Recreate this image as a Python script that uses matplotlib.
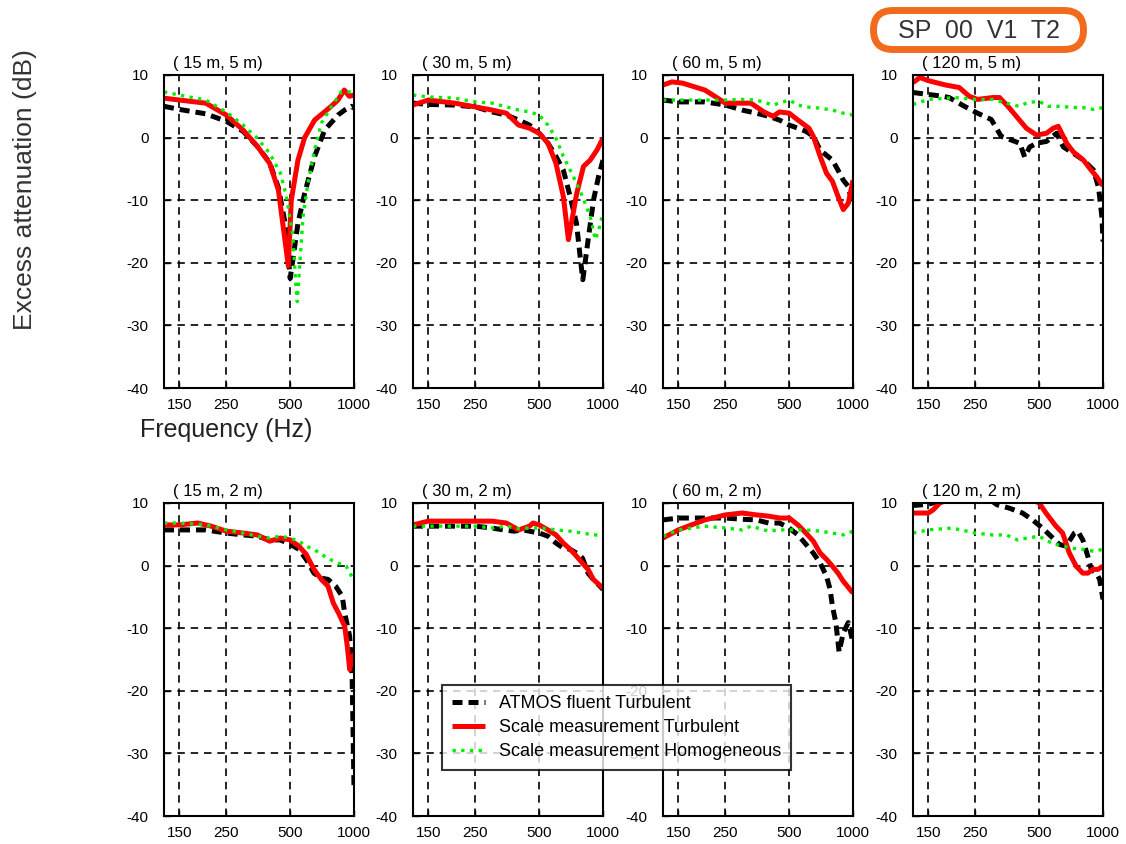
import matplotlib
matplotlib.use("Agg")
import matplotlib.pyplot as plt
from matplotlib.patches import FancyBboxPatch
from matplotlib.ticker import FixedLocator, NullLocator


plt.rcParams["font.family"] = ["Liberation Sans", "DejaVu Sans"]
plt.rcParams["axes.unicode_minus"] = False

# series names
labels = ["ATMOS fluent Turbulent", "Scale measurement Turbulent", "Scale measurement Homogeneous"]
panel_titles = ["( 15 m, 5 m)", "( 30 m, 5 m)", "( 60 m, 5 m)", "( 120 m, 5 m)",
                "( 15 m, 2 m)", "( 30 m, 2 m)", "( 60 m, 2 m)", "( 120 m, 2 m)"]
x_ticks = [150, 250, 500, 1000]
y_ticks = [10, 0, -10, -20, -30, -40]

# ---- (15 m, 5 m)
f15_5_atmos = [127, 150, 200, 250, 300, 350, 400, 440, 475, 500, 544, 585, 652, 727, 840, 903, 971, 1000]
v15_5_atmos = [5.0, 4.5, 3.8, 2.6, 1.0, -1.4, -4.0, -8.0, -14.0, -22.5, -13.7, -8.9, -3.0, 1.2, 3.6, 4.4, 5.0, 4.7]
f15_5_turb = [127, 150, 200, 250, 300, 350, 400, 440, 470, 490, 506, 544, 585, 652, 781, 840, 900, 950, 1000]
v15_5_turb = [6.3, 6.0, 5.5, 3.6, 1.2, -1.4, -4.1, -8.4, -15.8, -20.5, -10.0, -3.6, 0.0, 2.8, 5.0, 6.0, 7.6, 6.6, 6.8]
f15_5_homo = [127, 150, 200, 250, 300, 350, 400, 450, 480, 515, 530, 540, 575, 606, 652, 701, 781, 871, 971, 1000]
v15_5_homo = [7.3, 6.8, 6.0, 4.1, 2.0, -0.1, -2.5, -5.7, -9.4, -15.8, -23.0, -26.2, -12.6, -7.3, -2.0, 2.3, 4.9, 7.3, 7.3, 7.0]

# ---- (30 m, 5 m)
f30_5_atmos = [127, 150, 200, 250, 300, 350, 400, 450, 500, 550, 600, 650, 700, 750, 780, 803, 855, 903, 953, 1000]
v30_5_atmos = [5.5, 5.3, 5.2, 4.9, 4.1, 3.6, 2.8, 2.0, 0.7, -0.9, -3.0, -5.2, -9.4, -13.7, -19.0, -22.7, -15.8, -9.9, -6.2, -3.6]
f30_5_turb = [127, 150, 200, 250, 300, 350, 400, 450, 500, 550, 600, 650, 687, 752, 809, 870, 936, 1000]
v30_5_turb = [5.2, 6.0, 5.5, 4.9, 4.4, 3.9, 2.0, 1.5, 0.7, -0.9, -4.1, -9.4, -16.3, -8.9, -4.6, -3.6, -2.0, -0.1]
f30_5_homo = [127, 150, 200, 250, 300, 350, 400, 450, 500, 550, 600, 650, 700, 750, 800, 870, 920, 950, 1000]
v30_5_homo = [6.8, 6.5, 6.3, 5.7, 5.5, 4.9, 4.4, 4.1, 3.6, 2.0, -0.1, -3.0, -5.2, -7.3, -9.4, -12.6, -16.3, -15.0, -12.0]

# ---- (60 m, 5 m)
f60_5_atmos = [127, 150, 200, 250, 300, 350, 400, 450, 500, 550, 600, 650, 700, 800, 850, 900, 950, 1000]
v60_5_atmos = [6.0, 5.7, 5.7, 5.2, 4.4, 3.9, 3.4, 2.8, 2.0, 1.5, 1.0, 0.2, -2.0, -3.6, -5.2, -6.8, -7.8, -11.0]
f60_5_turb = [127, 140, 157, 200, 230, 250, 300, 330, 380, 420, 450, 500, 550, 620, 650, 700, 750, 800, 850, 900, 950, 1000]
v60_5_turb = [8.4, 8.9, 8.7, 7.6, 6.3, 5.5, 5.5, 5.5, 4.1, 3.4, 4.1, 3.9, 2.8, 1.5, 0.2, -3.0, -5.7, -7.0, -9.4, -11.5, -10.5, -6.8]
f60_5_homo = [127, 150, 200, 250, 300, 350, 420, 500, 550, 600, 700, 800, 900, 1000]
v60_5_homo = [6.0, 6.0, 6.0, 6.0, 6.1, 6.0, 5.2, 6.0, 5.2, 4.9, 4.7, 4.4, 3.9, 3.6]

# ---- (120 m, 5 m)
f120_5_atmos = [127, 150, 175, 188, 222, 256, 297, 331, 370, 405, 427, 451, 486, 542, 604, 650, 725, 809, 903, 953, 989, 1000]
v120_5_atmos = [7.2, 6.9, 6.6, 6.4, 5.0, 3.9, 2.9, 0.2, -0.4, -0.9, -3.1, -1.5, -0.9, -0.6, 0.7, -1.5, -2.5, -3.6, -5.2, -8.0, -12.8, -16.6]
f120_5_turb = [127, 137, 150, 181, 210, 234, 256, 302, 325, 356, 390, 435, 486, 542, 582, 615, 674, 725, 809, 870, 936, 1000]
v120_5_turb = [8.8, 9.6, 9.1, 8.4, 8.0, 6.6, 6.1, 6.4, 6.4, 5.0, 3.4, 1.5, 0.4, 0.7, 1.5, 1.8, -0.9, -2.3, -3.6, -5.0, -6.3, -7.7]
f120_5_homo = [127, 150, 200, 250, 300, 400, 443, 500, 550, 650, 700, 800, 900, 1000]
v120_5_homo = [5.3, 6.1, 6.4, 6.1, 6.1, 5.0, 5.6, 5.8, 5.0, 5.0, 4.8, 4.8, 4.5, 4.8]

# ---- (15 m, 2 m)
f15_2_atmos = [127, 150, 200, 250, 300, 350, 400, 450, 500, 550, 595, 647, 701, 754, 820, 880, 904, 954, 980, 1000]
v15_2_atmos = [5.7, 5.7, 5.7, 5.2, 4.9, 4.7, 4.1, 4.1, 3.4, 2.6, 1.0, -1.2, -2.0, -2.2, -3.3, -4.9, -7.6, -11.3, -17.7, -35.5]
f15_2_turb = [127, 150, 183, 212, 250, 300, 350, 400, 450, 500, 550, 595, 647, 701, 754, 799, 846, 904, 930, 954, 971, 1000]
v15_2_turb = [6.5, 6.5, 6.8, 6.3, 5.5, 5.2, 4.9, 3.9, 4.4, 4.1, 3.1, 1.8, -0.6, -2.2, -3.3, -6.0, -7.6, -9.7, -12.9, -16.6, -15.5, -14.0]
f15_2_homo = [127, 150, 200, 250, 300, 350, 400, 450, 500, 550, 595, 647, 701, 799, 870, 920, 954, 1000]
v15_2_homo = [6.8, 6.8, 6.5, 5.7, 5.2, 4.7, 4.4, 4.7, 4.4, 3.9, 3.1, 2.6, 1.8, 0.7, 0.2, -0.1, -1.2, -2.2]

# ---- (30 m, 2 m)
f30_2_atmos = [127, 150, 200, 250, 300, 340, 380, 420, 450, 500, 550, 600, 650, 700, 750, 800, 850, 900, 1000]
v30_2_atmos = [6.3, 6.3, 6.3, 6.3, 6.0, 5.7, 5.5, 5.7, 5.5, 5.2, 4.7, 3.6, 2.8, 2.6, 2.0, 1.2, -1.2, -2.2, -3.8]
f30_2_turb = [127, 150, 200, 250, 300, 350, 400, 450, 468, 500, 550, 600, 650, 700, 750, 800, 850, 900, 1000]
v30_2_turb = [6.5, 7.1, 7.1, 7.1, 7.1, 6.8, 5.7, 6.3, 6.8, 6.5, 5.7, 4.9, 3.6, 2.6, 1.5, 0.4, -0.6, -2.2, -3.6]
f30_2_homo = [127, 150, 200, 250, 300, 350, 400, 450, 500, 550, 600, 700, 800, 900, 1000]
v30_2_homo = [6.3, 6.3, 6.3, 6.3, 6.0, 6.3, 5.9, 6.0, 6.0, 5.9, 5.7, 5.5, 5.2, 4.9, 4.9]

# ---- (60 m, 2 m)
f60_2_atmos = [127, 150, 200, 250, 300, 350, 400, 450, 500, 550, 600, 650, 700, 750, 780, 800, 830, 860, 900, 950, 1000]
v60_2_atmos = [7.3, 7.6, 7.6, 7.6, 7.4, 7.3, 6.8, 6.8, 6.0, 4.9, 3.4, 2.0, 0.4, -1.7, -3.8, -6.5, -9.1, -13.8, -10.7, -9.1, -12.3]
f60_2_turb = [127, 150, 200, 250, 300, 350, 400, 450, 500, 550, 600, 650, 700, 750, 800, 850, 900, 1000]
v60_2_turb = [4.4, 5.7, 7.3, 8.1, 8.4, 8.1, 7.9, 7.6, 7.6, 6.5, 5.2, 3.9, 2.0, 1.0, -0.1, -1.2, -2.5, -4.4]
f60_2_homo = [127, 150, 200, 250, 300, 330, 400, 450, 500, 600, 700, 800, 900, 1000]
v60_2_homo = [4.7, 5.7, 6.3, 6.0, 5.7, 6.3, 5.5, 5.7, 5.7, 5.7, 5.5, 5.2, 4.9, 5.5]

# ---- (120 m, 2 m)  (parts run above the 10 dB limit and are clipped)
f120_2_atmos = [127, 150, 200, 280, 317, 360, 417, 465, 518, 568, 622, 669, 733, 760, 803, 848, 880, 930, 964, 1000]
v120_2_atmos = [9.6, 9.8, 11.0, 11.0, 9.7, 9.2, 8.4, 7.3, 6.0, 4.7, 3.4, 3.1, 5.2, 5.5, 4.1, 1.5, -0.6, -1.2, -2.2, -5.4]
f120_2_turb = [127, 150, 158, 170, 200, 300, 400, 480, 500, 538, 600, 645, 694, 747, 803, 848, 896, 947, 1000]
v120_2_turb = [8.4, 8.4, 8.9, 10.0, 11.0, 11.5, 11.0, 10.3, 10.0, 8.4, 6.3, 5.2, 2.0, -0.1, -1.2, -1.2, -0.6, -0.6, -0.1]
f120_2_homo = [127, 150, 194, 250, 300, 350, 395, 440, 500, 548, 600, 707, 803, 900, 1000]
v120_2_homo = [5.2, 5.7, 6.0, 5.2, 4.9, 4.9, 4.1, 4.4, 4.7, 3.9, 3.4, 2.8, 2.6, 2.3, 2.6]

panels = [
    ((f15_5_atmos, v15_5_atmos), (f15_5_turb, v15_5_turb), (f15_5_homo, v15_5_homo)),
    ((f30_5_atmos, v30_5_atmos), (f30_5_turb, v30_5_turb), (f30_5_homo, v30_5_homo)),
    ((f60_5_atmos, v60_5_atmos), (f60_5_turb, v60_5_turb), (f60_5_homo, v60_5_homo)),
    ((f120_5_atmos, v120_5_atmos), (f120_5_turb, v120_5_turb), (f120_5_homo, v120_5_homo)),
    ((f15_2_atmos, v15_2_atmos), (f15_2_turb, v15_2_turb), (f15_2_homo, v15_2_homo)),
    ((f30_2_atmos, v30_2_atmos), (f30_2_turb, v30_2_turb), (f30_2_homo, v30_2_homo)),
    ((f60_2_atmos, v60_2_atmos), (f60_2_turb, v60_2_turb), (f60_2_homo, v60_2_homo)),
    ((f120_2_atmos, v120_2_atmos), (f120_2_turb, v120_2_turb), (f120_2_homo, v120_2_homo)),
]

styles = [
    dict(color="black", lw=3.6, linestyle=(0, (2.0, 1.2)), dash_capstyle="butt"),
    dict(color="#ff0000", lw=3.6, solid_capstyle="butt"),
    dict(color="#00ee00", lw=2.4, linestyle=(0, (1.0, 1.6))),
]

W, H = 1126, 844
fig = plt.figure(figsize=(W / 100, H / 100), dpi=100)

col_left = [164, 413, 663, 913]
ax_w = 190
row_top = [75, 503]
ax_h = 313

handles = None
for i, (series, title) in enumerate(zip(panels, panel_titles)):
    r, c = divmod(i, 4)
    ax = fig.add_axes([col_left[c] / W, 1 - (row_top[r] + ax_h) / H, ax_w / W, ax_h / H])
    lines = []
    for (f, v), st in zip(series, styles):
        ln, = ax.plot(f, v, **st)
        lines.append(ln)
    handles = lines
    ax.set_xscale("log")
    ax.set_xlim(127, 1000)
    ax.set_ylim(-40, 10)
    ax.xaxis.set_major_locator(FixedLocator(x_ticks))
    ax.xaxis.set_minor_locator(NullLocator())
    ax.set_xticklabels([str(t) for t in x_ticks])
    ax.set_yticks(y_ticks)
    ax.set_yticklabels([str(t) for t in y_ticks])
    ax.tick_params(axis="both", direction="in", length=4, width=1, labelsize=11)
    ax.tick_params(axis="y", pad=11)
    ax.tick_params(axis="x", pad=7)
    ax.grid(True, color="black", linestyle=(0, (4.5, 3.5)), linewidth=1.2)
    for sp in ax.spines.values():
        sp.set_linewidth(1.5)
    ax.text(0.045, 1.012, title, transform=ax.transAxes, ha="left", va="bottom", fontsize=12)

fig.text(25 / W, 1 - 190 / H, "Excess attenuation (dB)", rotation=90, ha="center", va="center",
         fontsize=19, color="#333333")
fig.text(226 / W, 1 - 430 / H, "Frequency (Hz)", ha="center", va="center", fontsize=18, color="#222222")

# tag in the top-right corner
tag = FancyBboxPatch((8.735, 7.945), 2.10, 0.39, boxstyle="round,pad=0,rounding_size=0.195",
                     transform=fig.dpi_scale_trans, facecolor="none", edgecolor="#f26b1d", linewidth=5)
fig.patches.append(tag)
fig.text(9.785, 8.13, "SP  00  V1  T2", transform=fig.dpi_scale_trans, ha="center", va="center",
         fontsize=18, color="#333333")

leg = fig.legend(handles, labels, loc="upper left", bbox_to_anchor=(442 / W, 1 - 685 / H),
                 borderaxespad=0, fontsize=13, frameon=True, fancybox=False, handlelength=1.85,
                 labelspacing=0.4, borderpad=0.55, handletextpad=0.75)
leg.get_frame().set_edgecolor("black")
leg.get_frame().set_linewidth(1.5)

fig.savefig("out.png", dpi=100)
